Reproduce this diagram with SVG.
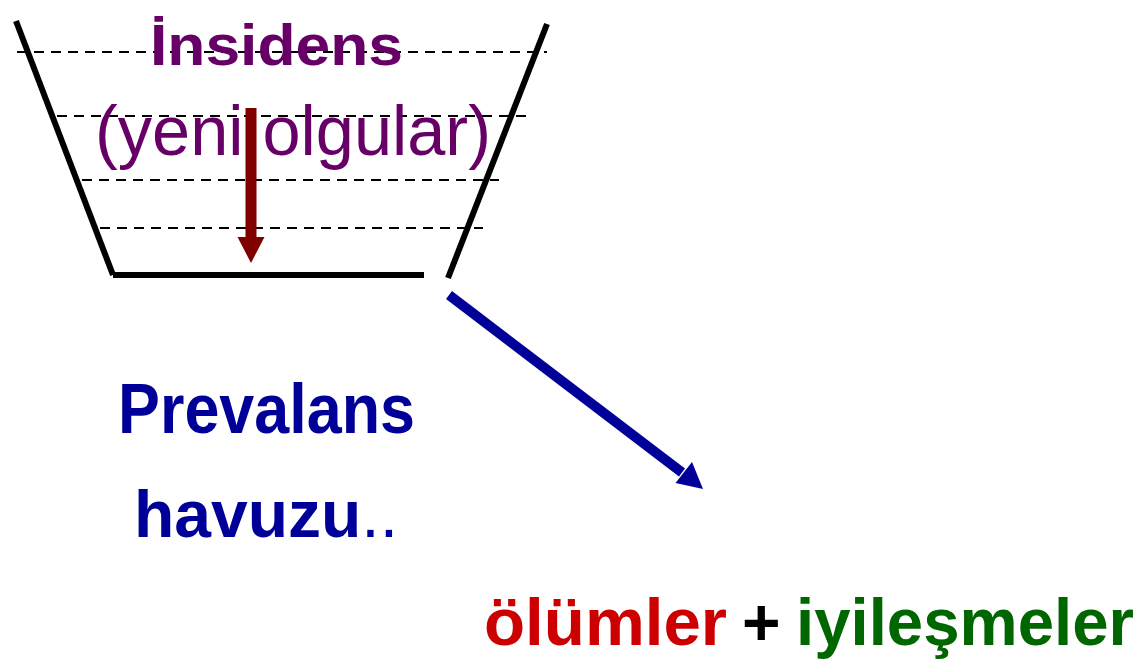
<svg xmlns="http://www.w3.org/2000/svg" width="1143" height="660" viewBox="0 0 1143 660">
  <style>
    .wall { stroke: #000; stroke-width: 6; fill: none; }
    .dash { stroke: #000; stroke-width: 2; stroke-dasharray: 10 7; fill: none; }
    .t { font-family: "Liberation Sans", Arial, sans-serif; }
    .b { font-weight: bold; }
  </style>
  <rect width="1143" height="660" fill="#fff"/>
  <g id="pool">
    <line class="dash" x1="17" y1="52" x2="547" y2="52"/>
    <line class="dash" x1="57" y1="116" x2="529" y2="116"/>
    <line class="dash" x1="82" y1="180" x2="499" y2="180"/>
    <line class="dash" x1="100" y1="228" x2="483" y2="228"/>
    <line class="wall" x1="16" y1="21" x2="113" y2="275"/>
    <line class="wall" x1="113" y1="275" x2="424" y2="275"/>
    <line class="wall" x1="547" y1="24" x2="448" y2="278"/>
  </g>
  <g id="insidens">
    <text class="t b" x="150" y="65" font-size="57" fill="#660066" textLength="253" lengthAdjust="spacingAndGlyphs">İnsidens</text>
    <text class="t" x="95" y="155" font-size="70" fill="#660066" textLength="396" lengthAdjust="spacingAndGlyphs">(yeni olgular)</text>
  </g>
  <g id="prevalans">
    <text class="t b" x="118" y="433" font-size="70" fill="#000099" textLength="297" lengthAdjust="spacingAndGlyphs">Prevalans</text>
    <text class="t" x="134" y="537" font-size="66" fill="#000099"><tspan class="b">havuzu</tspan>..</text>
  </g>
  <g id="outcome">
    <text class="t b" x="484" y="645" font-size="66" fill="#CC0000" textLength="243" lengthAdjust="spacingAndGlyphs">ölümler</text>
    <text class="t b" x="742" y="645" font-size="66" fill="#000">+</text>
    <text class="t b" x="796" y="645" font-size="66" fill="#006600" textLength="338" lengthAdjust="spacingAndGlyphs">iyileşmeler</text>
  </g>
  <g id="connectors">
    <rect x="245.5" y="108" width="11" height="131" fill="#800000"/>
    <polygon points="237.5,237 264.5,237 251,263" fill="#800000"/>
    <line x1="449" y1="295" x2="682" y2="472.5" stroke="#000099" stroke-width="10"/>
    <polygon points="703,489 675.5,483 692,462" fill="#000099"/>
  </g>
</svg>
